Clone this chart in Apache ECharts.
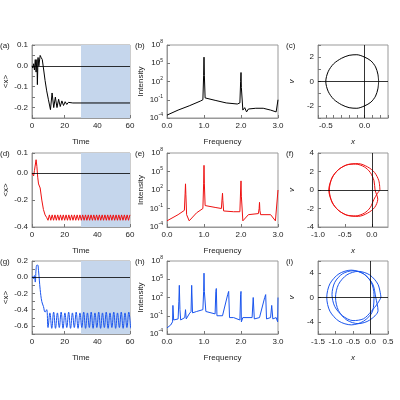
<!DOCTYPE html>
<html><head><meta charset="utf-8">
<script src="https://cdn.jsdelivr.net/npm/echarts@6/dist/echarts.min.js"></script>
<style>html,body{margin:0;background:#fff}#c{width:400px;height:400px}</style>
</head><body><div id="c"></div>
<script>
// (a) F0 = 12
var tA = [0, 0.5, 1, 1.5, 2, 2.5, 3, 3.3, 3.7, 4.2, 5, 5.6, 6.3, 7, 8, 9, 10, 11.3, 12.3, 13.3, 14.3, 15.3, 16.3, 17.3, 18.3, 19.3, 20.3, 21.3, 22.3, 23.5, 25, 60];
var xA = [0, -0.01, 0.01, -0.02, 0.03, -0.03, 0.03, -0.09, 0.04, 0.0, 0.05, 0.04, 0.03, -0.01, -0.07, -0.12, -0.16, -0.21, -0.13, -0.2, -0.15, -0.2, -0.16, -0.195, -0.168, -0.19, -0.172, -0.185, -0.175, -0.18, -0.178, -0.178];
// (d) F0 = 18
var tD = [0, 0.5, 1, 1.5, 2, 2.5, 3, 3.5, 4, 5, 6, 7, 8, 9];
var xD = [0, 0.01, -0.02, 0.02, 0.01, 0.1, 0.05, -0.03, -0.08, -0.11, -0.2, -0.27, -0.31, -0.33];
var xDosc = [-0.35, -0.31, -0.35, -0.31, -0.35, -0.31, -0.35, -0.31, -0.35, -0.31, -0.35, -0.31, -0.35, -0.31, -0.35, -0.31, -0.35, -0.31, -0.35, -0.31, -0.35, -0.31, -0.35, -0.31, -0.35, -0.31, -0.35, -0.31, -0.35, -0.31, -0.35, -0.31, -0.35, -0.31, -0.35, -0.31, -0.35, -0.31, -0.35, -0.31, -0.35, -0.31, -0.35, -0.31, -0.35, -0.31, -0.35, -0.31, -0.35, -0.31, -0.35, -0.31, -0.35, -0.31, -0.35, -0.31, -0.35, -0.31, -0.35, -0.31];
var stepD = 0.85;
// (g) F0 = 27.5
var tG = [0, 0.5, 1, 1.5, 2, 2.5, 3, 3.5, 4, 5, 6, 7, 8, 9];
var xG = [0, 0.01, -0.02, 0.02, -0.06, 0.1, 0.15, 0.15, 0.08, -0.15, -0.3, -0.36, -0.43, -0.4];
var xGosc = [-0.62, -0.44, -0.63, -0.43, -0.63, -0.44, -0.62, -0.43, -0.63, -0.44, -0.62, -0.43, -0.63, -0.44, -0.62, -0.43, -0.63, -0.44, -0.62, -0.43, -0.63, -0.44, -0.62, -0.43, -0.63, -0.44, -0.62, -0.43, -0.63, -0.44, -0.62, -0.43, -0.63, -0.44, -0.62, -0.43, -0.63, -0.44, -0.62, -0.43, -0.63, -0.44, -0.62, -0.43, -0.63];
var stepG = 1.15;
var oscStart = 9.8;

// spectra
var fB = [0.0, 0.3, 0.6, 0.9, 0.97, 0.99, 1.0, 1.01, 1.03, 1.3, 1.6, 1.9, 1.97, 1.99, 2.0, 2.01, 2.05, 2.1, 2.15, 2.2, 2.4, 2.6, 2.8, 2.95, 2.99, 3.0];
var iB = [3e-4, 2e-3, 1e-2, 6e-2, 0.1, 1e3, 1e6, 1e3, 0.2, 0.08, 0.03, 0.02, 0.03, 100, 3000, 10, 2e-3, 5e-3, 1e-3, 3e-3, 4e-3, 4e-3, 2e-3, 1e-3, 2e-3, 0.1];
var fE = [0.0, 0.3, 0.47, 0.49, 0.5, 0.51, 0.53, 0.6, 0.8, 0.97, 0.99, 1.0, 1.01, 1.03, 1.3, 1.47, 1.49, 1.5, 1.51, 1.53, 1.8, 1.97, 1.99, 2.0, 2.01, 2.05, 2.2, 2.47, 2.49, 2.5, 2.51, 2.53, 2.8, 2.93, 2.97, 3.0];
var iE = [1e-3, 1e-2, 0.05, 30, 1e3, 20, 0.01, 1e-3, 0.02, 0.1, 1e3, 1e6, 1e3, 0.3, 0.15, 0.1, 5, 30, 2, 0.04, 0.03, 0.03, 100, 3000, 10, 1e-3, 0.01, 0.015, 0.1, 1, 0.05, 0.01, 0.01, 1e-3, 1e-3, 100];
var fH = [0.0, 0.1, 0.15, 0.16, 0.167, 0.18, 0.2, 0.3, 0.32, 0.333, 0.35, 0.37, 0.48, 0.5, 0.52, 0.6, 0.65, 0.667, 0.69, 0.8, 0.83, 0.85, 0.97, 0.99, 1.0, 1.01, 1.05, 1.3, 1.32, 1.333, 1.35, 1.5, 1.64, 1.667, 1.69, 1.8, 1.97, 1.99, 2.0, 2.01, 2.05, 2.3, 2.33, 2.36, 2.5, 2.64, 2.667, 2.69, 2.8, 2.83, 2.86, 2.95, 2.99, 3.0];
var iH = [1e-3, 3e-3, 0.01, 5, 10, 0.02, 0.01, 0.03, 20, 1e4, 1, 0.02, 0.05, 1, 0.03, 0.2, 0.5, 1e4, 0.3, 0.5, 1, 0.5, 1, 1e3, 1e6, 1e3, 0.5, 0.2, 1e3, 3e3, 0.1, 0.1, 300, 1e3, 0.05, 0.05, 0.02, 300, 1e3, 0.01, 0.05, 0.05, 100, 0.03, 0.05, 100, 300, 0.03, 0.05, 5, 0.03, 0.05, 0.01, 100];

// phase portraits (x, v)
var pCx = [0.18, 0.17, 0.14, 0.08, 0, -0.1, -0.2, -0.3, -0.4, -0.47, -0.5, -0.47, -0.4, -0.3, -0.2, -0.1, 0, 0.08, 0.14, 0.17, 0.18];
var pCv = [0, 0.6, 1.2, 1.7, 2.0, 2.2, 2.15, 1.9, 1.45, 0.8, 0, -0.8, -1.45, -1.9, -2.15, -2.2, -2.0, -1.7, -1.2, -0.6, 0];
var pFx = [0.15, 0.13, 0.05, -0.08, -0.25, -0.45, -0.62, -0.74, -0.8, -0.74, -0.62, -0.45, -0.25, -0.08, 0.05, 0.11,
           0.06, 0.04, -0.03, -0.14, -0.3, -0.47, -0.63, -0.74, -0.79, -0.74, -0.63, -0.47, -0.3, -0.14, -0.03, 0.04, 0.1, 0.15];
var pFv = [0, 1.0, 1.9, 2.5, 2.85, 2.75, 2.2, 1.3, 0, -1.3, -2.2, -2.75, -2.85, -2.5, -1.9, -1.0,
           0, 1.0, 1.9, 2.5, 2.8, 2.7, 2.15, 1.3, 0, -1.3, -2.15, -2.7, -2.8, -2.5, -1.9, -1.0, -0.4, 0];
var pIx = [0.3, 0.215, -0.025, -0.35, -0.675, -0.915, -1.0, -0.915, -0.675, -0.35, -0.025, 0.215,
           0.15, 0.06, -0.2, -0.55, -0.9, -1.16, -1.25, -1.16, -0.9, -0.55, -0.2, 0.06,
           0.1, 0.02, -0.2, -0.5, -0.8, -1.02, -1.1, -1.02, -0.8, -0.5, -0.2, 0.02, 0.2, 0.3];
var pIv = [0, 2.15, 3.72, 4.3, 3.72, 2.15, 0, -2.15, -3.72, -4.3, -3.72, -2.15,
           0, 2.25, 3.9, 4.5, 3.9, 2.25, 0, -2.25, -3.9, -4.5, -3.9, -2.25,
           0.5, 2.5, 3.9, 4.4, 3.9, 2.5, 0.5, -1.5, -3.0, -3.8, -3.5, -2.3, -1.0, 0];

function zip(a, b) { return a.map(function (v, i) { return [v, b[i]]; }); }
function timeSeries(t, x, osc, step) {
  var d = zip(t, x);
  osc.forEach(function (v, i) { d.push([oscStart + i * step, v]); });
  return d;
}

var font = 'Liberation Sans, Arial, sans-serif';
var lbl = { fontSize: 8, color: '#222', fontFamily: font, margin: 4 };
var lefts = [32, 167, 318], widths = [98, 111, 70];
var tops = [45, 153, 261], heights = [73, 74, 73];
var colors = ['#000000', '#ee1111', '#1a55ee'];
var letters = ['a', 'b', 'c', 'd', 'e', 'f', 'g', 'h', 'i'];
var F0s = ['12', '18', '27.5'];

var grids = [], xAxes = [], yAxes = [], series = [], texts = [];
function fix1(v) { return v.toFixed(1); }
function axisBase(name, extra, isX) {
  var a = {
    gridIndex: grids.length - 1, name: name, nameLocation: 'middle',
    nameGap: isX ? 20 : 22,
    nameTextStyle: { fontSize: 8, color: '#222', fontFamily: font, fontStyle: name === 'x' || name === 'v' ? 'italic' : 'normal' },
    axisLine: { onZero: false, lineStyle: { color: '#999' } },
    axisTick: { inside: true, length: 3, lineStyle: { color: '#777' } },
    axisLabel: Object.assign({}, lbl), splitLine: { show: false }
  };
  for (var k in extra) {
    if (k === 'fmt') a.axisLabel.formatter = extra[k];
    else if (k === 'rich') a.axisLabel.rich = extra[k];
    else if (k === 'noMax') a.axisLabel.showMaxLabel = false;
    else a[k] = extra[k];
  }
  return a;
}
function logFmt(v) { var e = Math.round(Math.log10(v)); return '{b|10}{s|' + e + '}'; }
var rich = { b: { fontSize: 8, fontFamily: font, color: '#222' }, s: { fontSize: 5, fontFamily: font, color: '#222', verticalAlign: 'top', padding: [0, 0, 6, 0] } };

for (var r = 0; r < 3; r++) {
  for (var c = 0; c < 3; c++) {
    var idx = r * 3 + c;
    grids.push({ left: lefts[c], top: tops[r], width: widths[c], height: heights[r], show: true, borderColor: '#999', borderWidth: 1, backgroundColor: 'transparent' });
    texts.push({ type: 'text', left: lefts[c] - 32, top: tops[r] - 3, style: { text: '(' + letters[idx] + ')', fontSize: 8, fontFamily: font, fill: '#222' } });
    var col = colors[r];
    if (c === 0) {
      xAxes.push(axisBase('Time', { type: 'value', min: 0, max: 60, interval: 20 }, true));
      var yo = [
        { type: 'value', min: -0.25, max: 0.1, interval: 0.05, fmt: function (v) { var k = Math.round(v * 20); return k % 2 === 0 ? (v).toFixed(1) : ''; } },
        { type: 'value', min: -0.4, max: 0.15, interval: 0.2, fmt: fix1 },
        { type: 'value', min: -0.7, max: 0.2, interval: 0.1, fmt: function (v) { var k = Math.round(v * 10); return k % 2 === 0 ? v.toFixed(1) : ''; } }
      ][r];
      yAxes.push(axisBase('<x>', yo, false));
      var d = r === 0 ? zip(tA, xA) : r === 1 ? timeSeries(tD, xD, xDosc, stepD) : timeSeries(tG, xG, xGosc, stepG);
      series.push({
        type: 'line', xAxisIndex: idx, yAxisIndex: idx, data: d, showSymbol: false, smooth: r === 2 ? 0.4 : false,
        lineStyle: { color: col, width: 1 },
        markArea: { silent: true, itemStyle: { color: '#c5d6ec' }, data: [[{ xAxis: 30 }, { xAxis: 60 }]] },
        markLine: { silent: true, symbol: 'none', label: { show: false }, lineStyle: { color: '#000', width: 0.8, type: 'solid' }, data: [{ yAxis: 0 }] },
        z: 3
      });
      texts.push({ type: 'text', right: 400 - lefts[c] - widths[c] + 5, top: tops[r] + 5, style: { text: '{i|F}{sub|0}{n| = ' + F0s[r] + '}', rich: { i: { fontSize: 8, fontStyle: 'italic', fontFamily: font, fill: '#000' }, sub: { fontSize: 5, fontStyle: 'italic', fontFamily: font, fill: '#000', padding: [4, 0, 0, 0] }, n: { fontSize: 8, fontFamily: font, fill: '#000' } } } });
    } else if (c === 1) {
      xAxes.push(axisBase('Frequency', { type: 'value', min: 0, max: 3, interval: 1, fmt: fix1 }, true));
      yAxes.push(axisBase('Intensity', { type: 'log', min: 1e-4, max: 1e8, interval: 3, logBase: 10, fmt: logFmt, rich: rich }, false));
      var fs = [fB, fE, fH][r], is = [iB, iE, iH][r];
      series.push({ type: 'line', xAxisIndex: idx, yAxisIndex: idx, data: zip(fs, is), showSymbol: false, lineStyle: { color: col, width: 1 } });
    } else {
      var xo = [
        { type: 'value', min: -0.6, max: 0.3, interval: 0.1, fmt: function (v) { var k = Math.round(v * 10); return (k === -5 || k === 0) ? v.toFixed(1) : ''; } },
        { type: 'value', min: -1, max: 0.3, interval: 0.5, fmt: fix1, noMax: true },
        { type: 'value', min: -1.5, max: 0.5, interval: 0.5, fmt: fix1 }
      ][r];
      var yv = [
        { type: 'value', min: -3, max: 3, interval: 1, fmt: function (v) { return v % 2 === 0 ? String(v) : ''; } },
        { type: 'value', min: -4, max: 4, interval: 2 },
        { type: 'value', min: -6, max: 6, interval: 2, fmt: function (v) { return v % 4 === 0 ? String(v) : ''; } }
      ][r];
      xAxes.push(axisBase('x', xo, true));
      yAxes.push(axisBase('v', yv, false));
      var px = [pCx, pFx, pIx][r], pv = [pCv, pFv, pIv][r];
      series.push({
        type: 'line', xAxisIndex: idx, yAxisIndex: idx, data: zip(px, pv), showSymbol: false, smooth: 0.3,
        lineStyle: { color: col, width: 1 },
        markLine: { silent: true, symbol: 'none', label: { show: false }, lineStyle: { color: '#000', width: 0.8, type: 'solid' }, data: [{ yAxis: 0 }, { xAxis: 0 }] }
      });
    }
  }
}

var chart = echarts.init(document.getElementById('c'), null, { renderer: 'canvas' });
chart.setOption({
  animation: false, backgroundColor: '#fff',
  grid: grids, xAxis: xAxes, yAxis: yAxes, series: series, graphic: texts
});
</script></body></html>
